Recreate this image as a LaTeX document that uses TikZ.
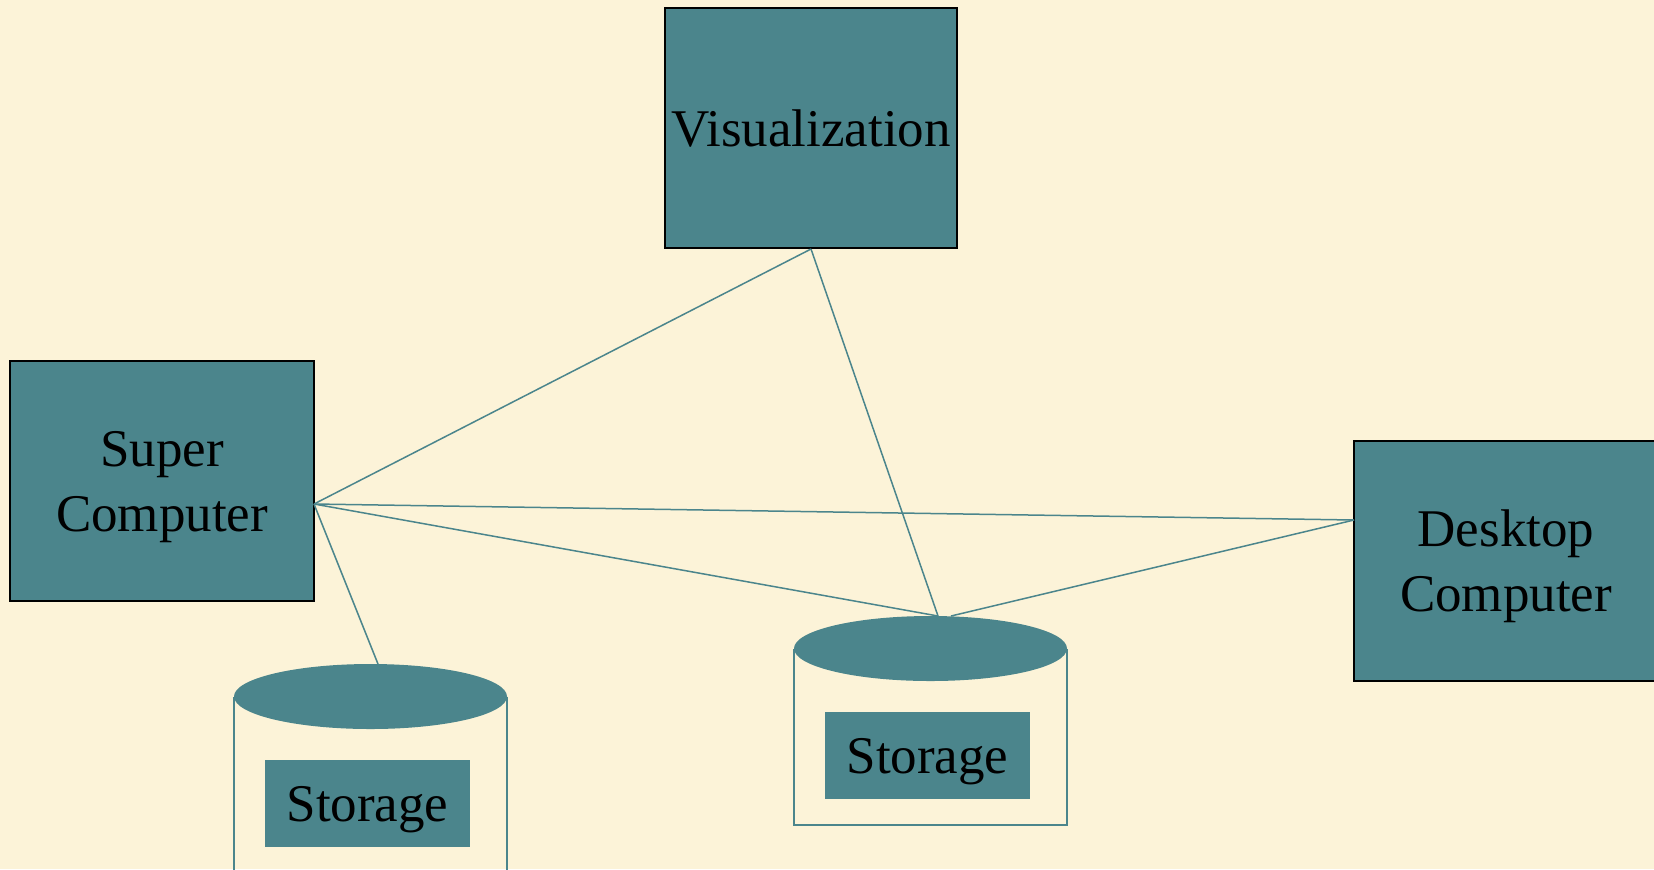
\documentclass[tikz,border=0pt]{standalone}
\usepackage{fontspec}
\setmainfont{Liberation Serif}
\definecolor{paper}{RGB}{252,243,216}
\definecolor{teal}{RGB}{75,133,140}
\tikzset{
    unit/.style={draw=black,line width=1pt,fill=teal,align=center,font=\fontsize{26.5}{32.5}\selectfont},
    tag/.style={fill=teal,minimum width=102.5pt,minimum height=43.5pt,text depth=-1.5pt,font=\fontsize{26.5}{32.5}\selectfont},
    link/.style={teal,line width=.75pt}
}
\begin{document}
\begin{tikzpicture}[x=.5pt,y=-.5pt]
        \fill[paper] (0,0) rectangle (1654,869);
        \useasboundingbox (0,0) rectangle (1654,869);
        \node[unit,minimum width=144pt,minimum height=120pt,text depth=-3pt] (vis) at (811,128) {Visualization};
        \node[unit,minimum width=152pt,minimum height=120pt,text depth=-1pt] (super) at (162,481) {Super\\Computer};
        \node[unit,minimum width=152pt,minimum height=120pt,text depth=-1pt] (desk) at (1506,560.5) {Desktop\\Computer};
        % storage drums
        \draw[teal,line width=.75pt] (234,696.5)--(234,880) (507,696.5)--(507,880);
        \fill[teal] (370.5,696.5) ellipse [x radius=136.5,y radius=32.5];
        \draw[teal,line width=.75pt] (794,648.5)--(794,825)--(1067,825)--(1067,648.5);
        \fill[teal] (930.5,648.5) ellipse [x radius=136.5,y radius=32.5];
        \node[tag] (storL) at (367.5,803.5) {Storage};
        \node[tag] (storR) at (927.5,755.5) {Storage};
        \coordinate (superport) at (314,504);
        \coordinate (deskport) at (1354,520);
        \coordinate (storLtop) at (378,664);
        \coordinate (storRtop) at (938,616);
        \coordinate (storRtop2) at (951,616);
        \draw[link] (vis.south)--(superport);
        \draw[link] (vis.south)--(storRtop);
        \draw[link] (superport)--(deskport);
        \draw[link] (superport)--(storRtop);
        \draw[link] (superport)--(storLtop);
        \draw[link] (deskport)--(storRtop2);
    \end{tikzpicture}
\end{document}
